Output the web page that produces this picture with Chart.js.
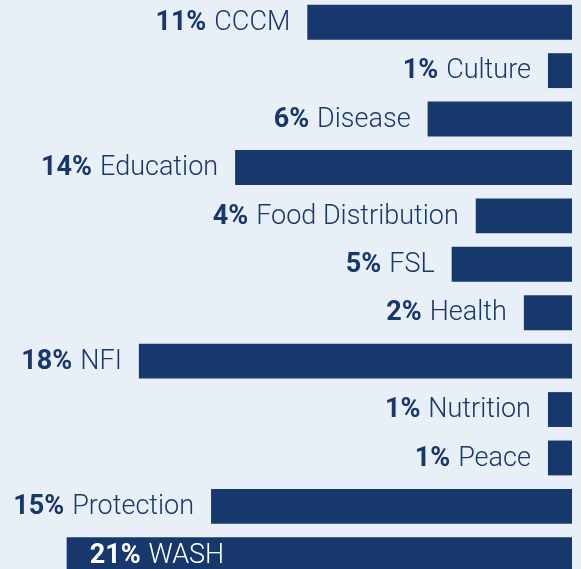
<!DOCTYPE html>
<html>
<head>
<meta charset="utf-8">
<script src="https://cdn.jsdelivr.net/npm/chart.js@4/dist/chart.umd.min.js"></script>
<style>
  html, body { margin: 0; padding: 0; background: #e8eff6; overflow: hidden; }
  #wrap { position: absolute; left: 0; top: -2px; width: 581px; height: 581px; }
</style>
</head>
<body>
<div id="wrap"><canvas id="sectorChart"></canvas></div>
<script>
const categories = ["CCCM", "Culture", "Disease", "Education", "Food Distribution", "FSL",
  "Health", "NFI", "Nutrition", "Peace", "Protection", "WASH"];
const shares = [11, 1, 6, 14, 4, 5, 2, 18, 1, 1, 15, 21];

const navy = "#17386c";

// percent in bold + sector name in light, placed left of the bar (or inside if it doesn't fit)
const barLabels = {
  id: "barLabels",
  afterDatasetsDraw(chart) {
    const ctx = chart.ctx;
    const meta = chart.getDatasetMeta(0);
    meta.data.forEach((bar, i) => {
      const left = Math.min(bar.x, bar.base);
      const pct = shares[i] + "%";
      const name = categories[i];
      ctx.save();
      ctx.textBaseline = "middle";
      ctx.font = "700 27px Roboto";
      const wPct = ctx.measureText(pct).width;
      ctx.font = "300 27px Roboto";
      const wName = ctx.measureText(name).width;
      const gap = 8;
      const total = wPct + gap + wName;
      let x, color;
      if (left - 17 - total > 10) {
        x = left - 17 - total;
        color = navy;
      } else {
        x = left + 23;
        color = "#ffffff";
      }
      const y = bar.y + 1;
      ctx.fillStyle = color;
      ctx.font = "700 27px Roboto";
      ctx.fillText(pct, x, y);
      ctx.font = "300 27px Roboto";
      ctx.fillText(name, x + wPct + gap, y);
      ctx.restore();
    });
  }
};

new Chart(document.getElementById("sectorChart").getContext("2d"), {
  type: "bar",
  data: {
    labels: categories,
    datasets: [{
      data: shares,
      backgroundColor: navy,
      borderWidth: 0,
      barPercentage: 0.9,
      categoryPercentage: 0.8
    }]
  },
  options: {
    indexAxis: "y",
    responsive: true,
    maintainAspectRatio: false,
    animation: false,
    layout: { padding: { left: 0, right: 9, top: 0, bottom: 0 } },
    plugins: { legend: { display: false }, tooltip: { enabled: false } },
    scales: {
      x: { display: false, reverse: true, min: 0, max: 23.77, grid: { display: false } },
      y: { display: false, grid: { display: false } }
    }
  },
  plugins: [barLabels]
});
</script>
</body>
</html>
